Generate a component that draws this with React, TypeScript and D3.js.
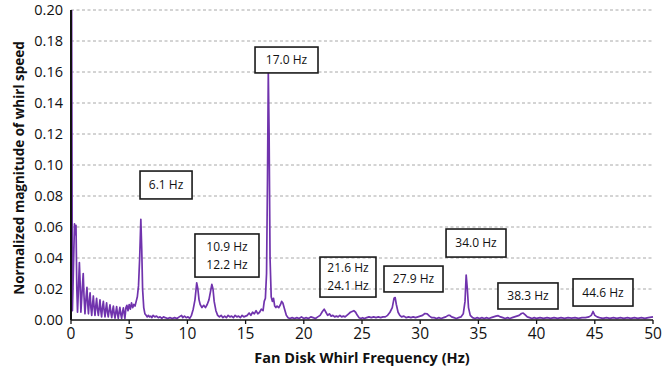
import React from "react";
import * as d3 from "d3";

const freqHz: number[] = [
  0.0, 0.05, 0.12, 0.2, 0.3, 0.36, 0.43, 0.5, 0.56, 0.64, 0.72, 0.78, 0.85, 0.95, 1.05, 1.12, 1.2, 1.3, 1.37, 1.44,
  1.5, 1.57, 1.64, 1.71, 1.78, 1.85, 1.92, 1.99, 2.06, 2.13, 2.2, 2.27, 2.35, 2.42, 2.49, 2.56, 2.63, 2.7, 2.78, 2.85,
  2.92, 2.99, 3.06, 3.13, 3.2, 3.27, 3.35, 3.42, 3.5, 3.57, 3.64, 3.71, 3.78, 3.85, 3.92, 3.99, 4.06, 4.13, 4.2, 4.27,
  4.35, 4.42, 4.5, 4.57, 4.63, 4.72, 4.8, 4.9, 5.0, 5.1, 5.2, 5.3, 5.4, 5.5, 5.6, 5.7, 5.8, 5.9, 6.0, 6.08,
  6.15, 6.25, 6.35, 6.45, 6.55, 6.65, 6.75, 6.85, 6.95, 7.05, 7.2, 7.35, 7.5, 7.65, 7.8, 7.95, 8.1, 8.3, 8.5, 8.7,
  8.9, 9.1, 9.3, 9.5, 9.6, 9.75, 9.9, 10.05, 10.2, 10.35, 10.5, 10.65, 10.8, 10.9, 11.0, 11.1, 11.25, 11.4, 11.55, 11.7,
  11.85, 12.0, 12.1, 12.2, 12.3, 12.45, 12.6, 12.75, 12.9, 13.05, 13.2, 13.35, 13.5, 13.65, 13.8, 13.95, 14.1, 14.25, 14.4, 14.55,
  14.7, 14.85, 15.0, 15.15, 15.3, 15.45, 15.6, 15.75, 15.9, 16.05, 16.2, 16.35, 16.5, 16.6, 16.7, 16.8, 16.88, 16.95, 17.02, 17.1,
  17.2, 17.3, 17.4, 17.5, 17.6, 17.7, 17.85, 18.0, 18.1, 18.2, 18.35, 18.5, 18.65, 18.8, 19.0, 19.2, 19.4, 19.6, 19.8, 20.0,
  20.2, 20.4, 20.6, 20.8, 21.0, 21.2, 21.4, 21.6, 21.75, 21.9, 22.05, 22.2, 22.35, 22.5, 22.65, 22.8, 22.95, 23.1, 23.25, 23.4,
  23.55, 23.7, 23.85, 24.0, 24.15, 24.3, 24.45, 24.6, 24.75, 24.9, 25.05, 25.2, 25.4, 25.6, 25.8, 26.0, 26.2, 26.4, 26.6, 26.8,
  27.0, 27.2, 27.4, 27.6, 27.75, 27.85, 27.95, 28.1, 28.25, 28.4, 28.6, 28.8, 29.0, 29.2, 29.4, 29.6, 29.8, 30.0, 30.2, 30.4,
  30.6, 30.8, 31.0, 31.2, 31.4, 31.6, 31.8, 32.0, 32.2, 32.4, 32.55, 32.7, 32.9, 33.1, 33.3, 33.5, 33.7, 33.85, 33.95, 34.05,
  34.15, 34.3, 34.5, 34.7, 34.9, 35.1, 35.3, 35.5, 35.7, 35.9, 36.1, 36.3, 36.5, 36.7, 36.9, 37.1, 37.3, 37.5, 37.7, 37.9,
  38.1, 38.3, 38.5, 38.7, 38.85, 39.0, 39.2, 39.4, 39.6, 39.8, 40.0, 40.3, 40.6, 40.9, 41.2, 41.5, 41.8, 42.1, 42.4, 42.7,
  43.0, 43.3, 43.6, 43.9, 44.2, 44.5, 44.7, 44.85, 45.0, 45.2, 45.4, 45.7, 46.0, 46.3, 46.6, 46.9, 47.2, 47.5, 47.8, 48.1,
  48.4, 48.7, 49.0, 49.3, 49.6, 50.0,
];

const magnitude: number[] = [
  0.21, 0.21, 0.006, 0.03, 0.062, 0.055, 0.061, 0.02, 0.005, 0.02, 0.037, 0.025, 0.005, 0.018, 0.03, 0.015, 0.004, 0.015, 0.021, 0.01,
  0.004, 0.012, 0.0175, 0.008, 0.003, 0.01, 0.0155, 0.008, 0.003, 0.009, 0.014, 0.007, 0.003, 0.008, 0.013, 0.006, 0.002, 0.008, 0.012, 0.006,
  0.002, 0.007, 0.011, 0.005, 0.002, 0.006, 0.0098, 0.005, 0.0015, 0.006, 0.009, 0.004, 0.0012, 0.005, 0.0086, 0.004, 0.001, 0.005, 0.0082, 0.004,
  0.001, 0.005, 0.0078, 0.004, 0.001, 0.008, 0.0095, 0.006, 0.01, 0.007, 0.011, 0.008, 0.01, 0.009, 0.012, 0.015, 0.022, 0.04, 0.065, 0.045,
  0.02, 0.008, 0.004, 0.003, 0.002, 0.003, 0.002, 0.0025, 0.0015, 0.003, 0.002, 0.0025, 0.0015, 0.002, 0.001, 0.002, 0.0015, 0.001, 0.0015, 0.001,
  0.0015, 0.001, 0.002, 0.003, 0.0015, 0.0025, 0.0015, 0.002, 0.001, 0.003, 0.007, 0.013, 0.024, 0.02, 0.013, 0.01, 0.008, 0.0095, 0.008, 0.01,
  0.013, 0.019, 0.023, 0.02, 0.012, 0.006, 0.003, 0.002, 0.003, 0.0015, 0.0025, 0.0015, 0.003, 0.002, 0.0025, 0.0015, 0.003, 0.002, 0.0025, 0.0015,
  0.003, 0.002, 0.0025, 0.003, 0.0045, 0.003, 0.005, 0.004, 0.006, 0.004, 0.005, 0.007, 0.006, 0.012, 0.014, 0.03, 0.09, 0.16, 0.12, 0.04,
  0.015, 0.012, 0.014, 0.009, 0.008, 0.009, 0.008, 0.01, 0.012, 0.011, 0.007, 0.003, 0.0015, 0.001, 0.0015, 0.001, 0.0015, 0.001, 0.002, 0.001,
  0.0015, 0.001, 0.002, 0.0015, 0.001, 0.002, 0.003, 0.0055, 0.007, 0.005, 0.003, 0.004, 0.0025, 0.003, 0.002, 0.0025, 0.002, 0.003, 0.002, 0.0025,
  0.002, 0.003, 0.004, 0.005, 0.0055, 0.006, 0.005, 0.003, 0.0015, 0.001, 0.0015, 0.001, 0.0015, 0.002, 0.0015, 0.002, 0.0015, 0.002, 0.0015, 0.002,
  0.002, 0.003, 0.005, 0.008, 0.014, 0.0145, 0.01, 0.005, 0.003, 0.002, 0.0025, 0.0015, 0.002, 0.0015, 0.002, 0.0015, 0.002, 0.0025, 0.003, 0.0042,
  0.004, 0.0025, 0.0015, 0.0015, 0.001, 0.0015, 0.001, 0.0015, 0.002, 0.003, 0.003, 0.002, 0.0015, 0.001, 0.0015, 0.002, 0.004, 0.012, 0.029, 0.02,
  0.008, 0.003, 0.0015, 0.001, 0.0015, 0.001, 0.0015, 0.001, 0.0015, 0.001, 0.0015, 0.002, 0.0025, 0.0028, 0.002, 0.0015, 0.001, 0.0015, 0.001, 0.0015,
  0.002, 0.0025, 0.003, 0.0042, 0.0045, 0.0035, 0.002, 0.0015, 0.001, 0.0015, 0.001, 0.0015, 0.001, 0.0015, 0.001, 0.0015, 0.001, 0.0015, 0.001, 0.0015,
  0.0012, 0.0015, 0.001, 0.0015, 0.0015, 0.002, 0.003, 0.0055, 0.003, 0.002, 0.0015, 0.001, 0.0015, 0.001, 0.0015, 0.001, 0.0015, 0.001, 0.0015, 0.001,
  0.0015, 0.001, 0.0015, 0.001, 0.0015, 0.002,
];

const xTicks: number[] = [0, 5, 10, 15, 20, 25, 30, 35, 40, 45, 50];
const yTicks: number[] = [0, 0.02, 0.04, 0.06, 0.08, 0.1, 0.12, 0.14, 0.16, 0.18, 0.2];

const annotationLines: string[][] = [
  ["6.1 Hz"],
  ["17.0 Hz"],
  ["10.9 Hz", "12.2 Hz"],
  ["21.6 Hz", "24.1 Hz"],
  ["27.9 Hz"],
  ["34.0 Hz"],
  ["38.3 Hz"],
  ["44.6 Hz"],
];
// box extents in data units: [fLeft, fRight, vTop, vBottom]
const annotationBoxes: number[][] = [
  [5.93, 10.4, 0.0961, 0.0781],
  [15.81, 21.22, 0.1761, 0.1594],
  [10.65, 16.15, 0.0555, 0.0277],
  [21.39, 26.2, 0.0406, 0.0148],
  [26.89, 31.96, 0.0348, 0.0181],
  [32.22, 37.37, 0.0587, 0.0406],
  [36.68, 41.84, 0.0239, 0.0071],
  [43.13, 48.28, 0.0265, 0.009],
];
const annotationFilled: boolean[] = [true, true, true, false, true, true, true, true];

const W = 663;
const H = 369;
const X0 = 71;
const X1 = 653;
const Y0 = 320;
const Y1 = 10;

export default function App() {
  const x = d3.scaleLinear().domain([0, 50]).range([X0, X1]);
  const y = d3.scaleLinear().domain([0, 0.2]).range([Y0, Y1]);
  const pts: [number, number][] = freqHz.map((f, i) => [f, magnitude[i]]);
  const line = d3
    .line<[number, number]>()
    .x((d) => x(d[0]))
    .y((d) => y(d[1]));
  const font = "'Open Sans', 'Liberation Sans', Arial, sans-serif";

  return (
    <svg
      width={W}
      height={H}
      viewBox={`0 0 ${W} ${H}`}
      style={{ position: "absolute", left: 0, top: 0, background: "#fff" }}
      fontFamily={font}
    >
      <defs>
        <clipPath id="plotclip">
          <rect x={X0} y={Y1} width={X1 - X0 + 2} height={Y0 - Y1} />
        </clipPath>
      </defs>
      {yTicks
        .filter((t) => t > 0)
        .map((t) => (
          <line
            key={"g" + t}
            x1={X0}
            x2={X1}
            y1={y(t)}
            y2={y(t)}
            stroke="#a8a8a8"
            strokeWidth={1}
            strokeDasharray="3,2.5"
          />
        ))}
      {annotationBoxes.map((b, i) =>
        annotationFilled[i] ? null : (
          <rect
            key={"bu" + i}
            x={x(b[0])}
            y={y(b[2])}
            width={x(b[1]) - x(b[0])}
            height={y(b[3]) - y(b[2])}
            fill="none"
            stroke="#1a1a1a"
            strokeWidth={1.6}
          />
        )
      )}
      <path
        d={line(pts) || ""}
        fill="none"
        stroke="#7033ad"
        strokeWidth={1.7}
        strokeLinejoin="round"
        clipPath="url(#plotclip)"
      />
      <line x1={X0} x2={X1} y1={Y0} y2={Y0} stroke="#111" strokeWidth={1.6} />
      <line x1={X0} x2={X0} y1={Y1} y2={Y0} stroke="#111" strokeWidth={2} />
      {xTicks.map((t) => (
        <g key={"xt" + t}>
          <line x1={x(t)} x2={x(t)} y1={Y0} y2={Y0 + 4} stroke="#111" strokeWidth={1.3} />
          <text x={x(t)} y={339} textAnchor="middle" fontSize={15.5} fill="#111">
            {t}
          </text>
        </g>
      ))}
      {yTicks.map((t) => (
        <text key={"yt" + t} x={63} y={y(t) + 5} textAnchor="end" fontSize={14.5} fill="#111">
          {t.toFixed(2)}
        </text>
      ))}
      <text
        transform={`translate(24, ${(Y0 + Y1) / 2 + 3}) rotate(-90)`}
        textAnchor="middle"
        fontSize={13.5}
        fontWeight="bold"
        fill="#111"
      >
        Normalized magnitude of whirl speed
      </text>
      <text x={362} y={363} textAnchor="middle" fontSize={14.5} fontWeight="bold" fill="#111">
        Fan Disk Whirl Frequency (Hz)
      </text>
      {annotationBoxes.map((b, i) => {
        const bx = x(b[0]);
        const by = y(b[2]);
        const bw = x(b[1]) - x(b[0]);
        const bh = y(b[3]) - y(b[2]);
        const lines = annotationLines[i];
        const cx = bx + bw / 2;
        const cy = by + bh / 2;
        const lh = 18;
        return (
          <g key={"a" + i}>
            {annotationFilled[i] ? (
              <rect x={bx} y={by} width={bw} height={bh} fill="#fff" stroke="#1a1a1a" strokeWidth={1.6} />
            ) : null}
            {lines.map((s, j) => (
              <text
                key={j}
                x={cx}
                y={cy + (j - (lines.length - 1) / 2) * lh + 4.2}
                textAnchor="middle"
                fontSize={12}
                fill="#111"
              >
                {s}
              </text>
            ))}
          </g>
        );
      })}
    </svg>
  );
}
